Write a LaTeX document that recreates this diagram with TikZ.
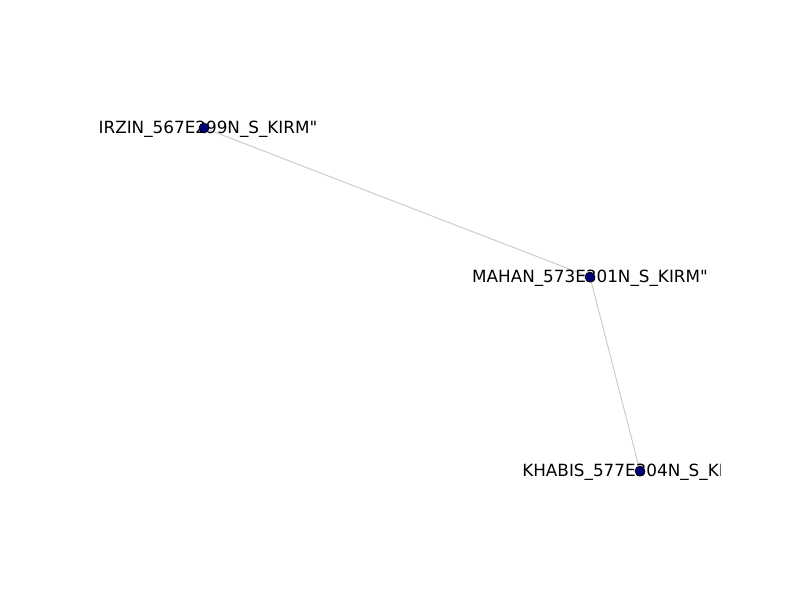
\documentclass[tikz,border=0pt]{standalone}
\usepackage{fontspec}
\setmainfont{DejaVu Sans}[Ligatures=TeXOff]
\usetikzlibrary{backgrounds}
\tikzstyle{station} = [circle, inner sep=0pt, minimum size=10pt, draw=black, fill=blue!45!black, line width=0.6pt]
\tikzstyle{stationlabel} = [inner sep=0pt, yshift=-1.5pt, font=\fontsize{16.8}{19}\selectfont, text=black]
\tikzstyle{link} = [draw=black!20, line width=1pt]

\begin{document}
\begin{tikzpicture}[x=1pt, y=-1pt]

        \useasboundingbox (0,0) rectangle (800,600);

        \begin{scope}
        \clip (0,72) rectangle (720,534);
        \node (irzinname) [stationlabel, xshift=4pt] at (204,128) {IRZIN\_567E299N\_S\_KIRM"};
        \node (mahanname) [stationlabel] at (590,277) {MAHAN\_573E301N\_S\_KIRM"};
        \node (khabisname) [stationlabel] at (640,471) {KHABIS\_577E304N\_S\_KIRM"};
        \end{scope}

        \node (irzin) [station] at (204,128) {};
        \node (mahan) [station] at (590,277) {};
        \node (khabis) [station] at (640,471) {};

        \begin{scope}[on background layer]
        \draw [link] (irzin) -- (mahan);
        \draw [link] (mahan) -- (khabis);
        \end{scope}

\end{tikzpicture}
\end{document}
